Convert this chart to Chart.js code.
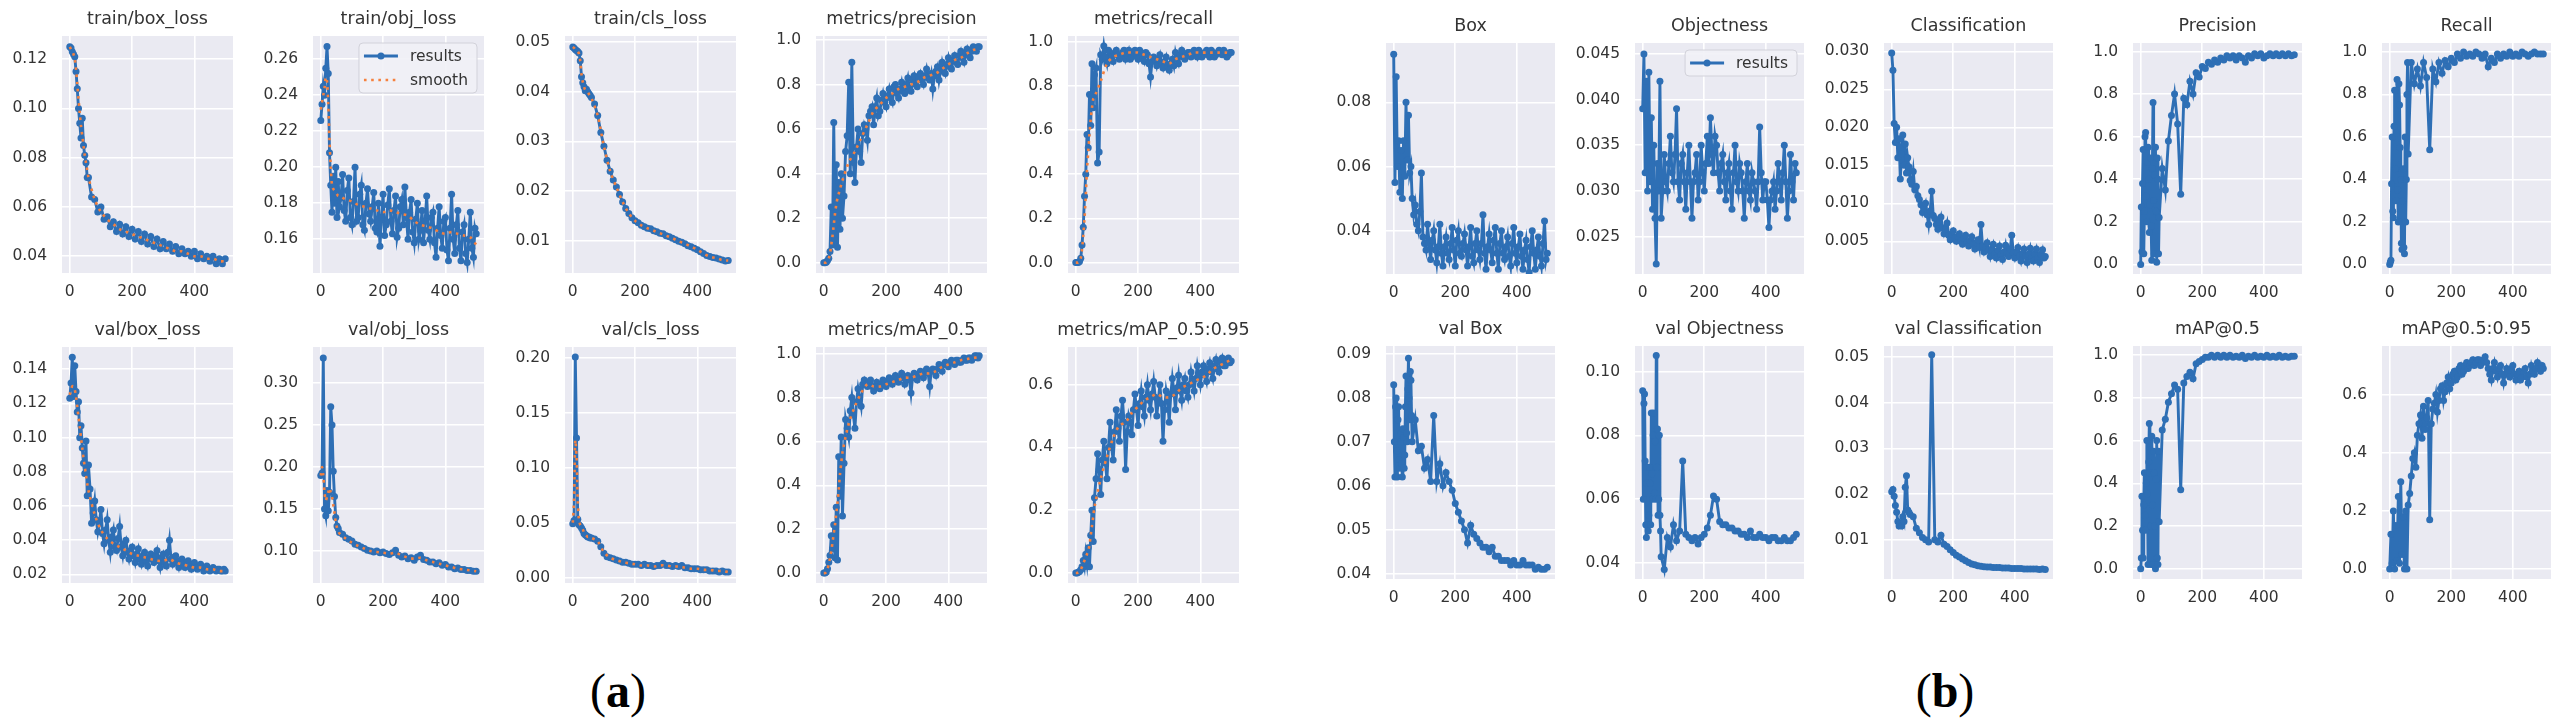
<!DOCTYPE html>
<html>
<head>
<meta charset="utf-8">
<script src="https://cdn.jsdelivr.net/npm/chart.js@4.4.1/dist/chart.umd.min.js"></script>
<style>
  html, body { margin: 0; padding: 0; background: #fff; }
  #fig { position: relative; width: 2560px; height: 726px; overflow: hidden; }
  #fig canvas { position: absolute; }
  .lab { position: absolute; top: 662px; width: 200px; text-align: center;
         font: 48px/58px "Liberation Serif", "Times New Roman", serif; color: #000; }
</style>
</head>
<body>
<div id="fig">
  <div class="lab" style="left:518px">(<b>a</b>)</div>
  <div class="lab" style="left:1845px">(<b>b</b>)</div>
</div>
<script>
// epochs sampled for the smoother "results" series (dense at the start, every 10 after)
const EPOCHS = [0,4,8,12,16,20,24,28,32,36,40,44,48,52,56,60,
  70,80,90,100,110,120,130,140,150,160,170,180,190,200,210,220,230,240,250,260,270,280,
  290,300,310,320,330,340,350,360,370,380,390,400,410,420,430,440,450,460,470,480,490,499];
// epochs for series that are chaotic in the first 60 epochs (every 2 there)
const EPOCHS_E = [0,2,4,6,8,10,12,14,16,18,20,22,24,26,28,30,32,34,36,38,40,42,44,46,48,50,52,54,56,58,60,
  70,80,90,100,110,120,130,140,150,160,170,180,190,200,210,220,230,240,250,260,270,280,
  290,300,310,320,330,340,350,360,370,380,390,400,410,420,430,440,450,460,470,480,490,499];
// epochs sampled for the noisy "results" series (every 5 after epoch 60)
const EPOCHS_D = [0,4,8,12,16,20,24,28,32,36,40,44,48,52,56,60,
  65,70,75,80,85,90,95,100,105,110,
  115,120,125,130,135,140,145,150,155,160,
  165,170,175,180,185,190,195,200,205,210,
  215,220,225,230,235,240,245,250,255,260,
  265,270,275,280,285,290,295,300,305,310,
  315,320,325,330,335,340,345,350,355,360,
  365,370,375,380,385,390,395,400,405,410,
  415,420,425,430,435,440,445,450,455,460,
  465,470,475,480,485,490,495,499];
// epochs sampled for the "smooth" series
const SMOOTH_EPOCHS = [0,4,8,12,16,20,24,28,32,36,40,44,48,52,56,60,
  80,100,120,140,160,180,200,220,240,260,280,300,320,340,360,380,400,420,440,460,480,499];
const X_TICKS = [0, 200, 400];

// ---- (a) ----
const A_TRAIN_BOX = [0.125,0.1245,0.123,0.122,0.121,0.115,0.108,0.100,0.094,0.088,0.096,0.085,0.081,0.078,0.072,0.072,
  0.064,0.063,0.058,0.060,0.055,0.056,0.052,0.054,0.050,0.053,0.049,0.052,0.048,0.051,0.047,0.050,0.046,0.049,0.045,0.048,0.044,0.047,
  0.043,0.046,0.043,0.045,0.042,0.044,0.041,0.043,0.041,0.042,0.040,0.042,0.039,0.041,0.039,0.040,0.038,0.040,0.037,0.039,0.037,0.039];
const A_TRAIN_BOX_SM = [0.125,0.124,0.123,0.122,0.120,0.116,0.110,0.104,0.098,0.093,0.089,0.085,0.081,0.078,0.075,0.072,
  0.063,0.058,0.055,0.053,0.051,0.050,0.049,0.048,0.047,0.046,0.045,0.044,0.043,0.042,0.042,0.041,0.040,0.040,0.039,0.039,0.038,
  0.038];

const A_TRAIN_OBJ = [0.226,0.235,0.245,0.240,0.255,0.267,0.252,0.208,0.190,0.175,0.195,0.180,0.200,0.172,0.192,0.178,
  0.183,0.196,0.176,0.170,0.187,0.194,0.172,0.168,0.181,0.200,
  0.170,0.172,0.185,0.190,0.168,0.165,0.180,0.188,0.174,0.170,
  0.178,0.186,0.166,0.164,0.180,0.156,0.172,0.185,0.162,0.168,
  0.179,0.188,0.170,0.163,0.176,0.184,0.161,0.166,0.178,0.182,
  0.168,0.189,0.172,0.160,0.175,0.182,0.164,0.158,0.171,0.180,
  0.160,0.165,0.176,0.158,0.170,0.184,0.165,0.160,0.172,0.175,
  0.158,0.150,0.166,0.178,0.162,0.155,0.170,0.172,0.154,0.148,
  0.166,0.185,0.160,0.152,0.168,0.176,0.155,0.148,0.164,0.168,
  0.152,0.147,0.160,0.175,0.155,0.150,0.166,0.163];
const A_TRAIN_OBJ_SM = [0.232,0.236,0.240,0.244,0.250,0.248,0.235,0.215,0.200,0.190,0.188,0.187,0.186,0.185,0.184,0.184,
  0.182,0.181,0.179,0.178,0.177,0.176,0.175,0.176,0.175,0.174,0.173,0.170,0.168,0.167,0.166,0.164,0.163,0.164,0.163,0.162,0.161,
  0.157];

const A_TRAIN_CLS = [0.0490,0.0488,0.0485,0.0483,0.0481,0.0478,0.0462,0.0430,0.0418,0.0410,0.0402,0.0405,0.0400,0.0396,0.0392,0.0388,
  0.0375,0.0352,0.0318,0.0290,0.0262,0.0240,0.0222,0.0208,0.0193,0.0178,0.0165,0.0155,0.0146,0.0140,0.0136,0.0131,0.0128,0.0125,0.0124,0.0120,0.0118,0.0115,
  0.0114,0.0110,0.0108,0.0105,0.0102,0.0099,0.0097,0.0094,0.0090,0.0088,0.0085,0.0082,0.0078,0.0074,0.0070,0.0068,0.0066,0.0065,0.0063,0.0061,0.0059,0.0060];
const A_TRAIN_CLS_SM = [0.0490,0.0488,0.0485,0.0483,0.0481,0.0476,0.0462,0.0435,0.0420,0.0410,0.0403,0.0401,0.0399,0.0395,0.0391,0.0387,
  0.0352,0.0290,0.0240,0.0208,0.0178,0.0155,0.0140,0.0131,0.0125,0.0120,0.0115,0.0110,0.0105,0.0099,0.0094,0.0088,0.0082,0.0074,0.0068,0.0065,0.0061,
  0.0060];

const A_PRECISION = [0.0,0.0,0.002,0.01,0.02,0.05,0.25,0.08,0.63,0.10,0.44,0.07,0.36,0.15,0.40,0.20,
  0.30,0.50,0.57,0.81,0.40,0.90,0.45,0.36,0.52,0.60,
  0.50,0.45,0.58,0.62,0.60,0.55,0.66,0.68,0.70,0.62,
  0.70,0.74,0.66,0.68,0.73,0.76,0.72,0.70,0.75,0.78,
  0.74,0.72,0.79,0.80,0.76,0.74,0.78,0.81,0.77,0.76,
  0.80,0.83,0.78,0.77,0.82,0.84,0.80,0.79,0.83,0.85,
  0.82,0.80,0.84,0.87,0.83,0.82,0.85,0.78,0.84,0.86,
  0.88,0.82,0.86,0.90,0.87,0.85,0.89,0.92,0.88,0.87,
  0.91,0.93,0.90,0.89,0.93,0.95,0.92,0.90,0.94,0.96,
  0.93,0.92,0.95,0.97,0.96,0.95,0.97,0.97];
const A_PRECISION_SM = [0,0,0.002,0.01,0.02,0.04,0.08,0.12,0.17,0.22,0.26,0.29,0.31,0.33,0.35,0.37,
  0.45,0.50,0.56,0.62,0.68,0.71,0.74,0.76,0.78,0.79,0.80,0.81,0.83,0.84,0.85,0.87,0.89,0.91,0.92,0.94,0.955,
  0.96];

const A_RECALL = [0.0,0.0,0.0,0.005,0.02,0.08,0.16,0.30,0.40,0.58,0.52,0.76,0.62,0.90,0.70,0.85,
  0.88,0.45,0.50,0.94,0.92,0.98,0.93,0.90,0.96,0.95,
  0.93,0.91,0.94,0.96,0.94,0.92,0.93,0.95,0.96,0.92,
  0.94,0.96,0.92,0.93,0.95,0.96,0.94,0.92,0.96,0.95,
  0.93,0.91,0.95,0.94,0.90,0.84,0.91,0.93,0.92,0.89,
  0.92,0.94,0.90,0.88,0.91,0.93,0.89,0.87,0.90,0.92,
  0.89,0.95,0.92,0.90,0.94,0.96,0.93,0.92,0.94,0.95,
  0.95,0.93,0.94,0.96,0.95,0.93,0.96,0.95,0.93,0.94,
  0.95,0.96,0.94,0.93,0.96,0.95,0.93,0.94,0.95,0.96,
  0.95,0.94,0.96,0.95,0.93,0.94,0.95,0.95];
const A_RECALL_SM = [0,0,0,0.005,0.02,0.06,0.12,0.20,0.30,0.42,0.50,0.58,0.65,0.70,0.74,0.75,
  0.82,0.90,0.93,0.94,0.95,0.95,0.95,0.94,0.93,0.92,0.91,0.90,0.92,0.93,0.94,0.95,0.95,0.95,0.95,0.95,0.95,
  0.945];

const A_VAL_BOX = [0.123,0.132,0.147,0.124,0.142,0.127,0.115,0.121,0.100,0.107,0.094,0.085,0.079,0.098,0.066,0.084,
  0.070,0.050,0.056,0.063,0.052,0.045,0.050,0.058,0.044,0.038,
  0.046,0.052,0.040,0.033,0.042,0.046,0.036,0.034,0.041,0.048,
  0.036,0.031,0.038,0.040,0.033,0.029,0.034,0.036,0.031,0.027,
  0.032,0.035,0.029,0.026,0.031,0.033,0.028,0.025,0.030,0.032,
  0.029,0.027,0.031,0.034,0.028,0.024,0.030,0.032,0.027,0.025,
  0.033,0.040,0.029,0.026,0.030,0.031,0.027,0.024,0.028,0.029,
  0.026,0.024,0.027,0.028,0.025,0.023,0.026,0.027,0.024,0.023,
  0.025,0.026,0.024,0.022,0.024,0.025,0.023,0.022,0.023,0.024,
  0.023,0.022,0.023,0.023,0.022,0.022,0.023,0.022];
const A_VAL_BOX_SM = [0.125,0.128,0.130,0.130,0.128,0.124,0.118,0.112,0.106,0.100,0.094,0.088,0.083,0.078,0.073,0.069,
  0.055,0.046,0.041,0.038,0.036,0.034,0.032,0.031,0.030,0.029,0.028,0.028,0.029,0.027,0.026,0.025,0.024,0.024,0.023,0.023,0.022,
  0.022];

const A_VAL_OBJ = [0.190,0.193,0.330,0.150,0.142,0.172,0.148,0.170,0.272,0.250,0.195,0.165,0.140,0.130,0.127,0.122,
  0.120,0.116,0.114,0.112,0.108,0.107,0.105,0.103,0.101,0.100,0.099,0.100,0.098,0.099,0.097,0.096,0.098,0.101,0.095,0.093,0.094,0.091,
  0.092,0.089,0.093,0.095,0.090,0.089,0.087,0.087,0.085,0.086,0.083,0.084,0.081,0.081,0.079,0.080,0.078,0.078,0.077,0.077,0.076,0.076];
const A_VAL_OBJ_SM = [0.190,0.200,0.190,0.170,0.160,0.165,0.170,0.175,0.170,0.165,0.155,0.145,0.135,0.128,0.124,0.121,
  0.115,0.110,0.106,0.103,0.100,0.099,0.098,0.097,0.098,0.095,0.092,0.091,0.092,0.089,0.087,0.085,0.083,0.081,0.079,0.078,0.077,
  0.076];

const A_VAL_CLS = [0.049,0.052,0.201,0.127,0.053,0.048,0.047,0.045,0.043,0.040,0.039,0.038,0.037,0.037,0.036,0.036,
  0.035,0.033,0.028,0.022,0.019,0.018,0.017,0.016,0.015,0.014,0.014,0.013,0.012,0.012,0.012,0.011,0.012,0.011,0.011,0.010,0.011,0.011,
  0.013,0.011,0.011,0.010,0.011,0.010,0.011,0.009,0.009,0.008,0.008,0.008,0.007,0.007,0.007,0.006,0.006,0.006,0.005,0.006,0.005,0.005];
const A_VAL_CLS_SM = [0.050,0.070,0.125,0.110,0.070,0.052,0.048,0.046,0.044,0.041,0.039,0.038,0.037,0.037,0.036,0.036,
  0.033,0.023,0.018,0.016,0.014,0.013,0.012,0.011,0.011,0.010,0.011,0.011,0.010,0.010,0.009,0.008,0.008,0.007,0.007,0.006,0.006,
  0.005];

const A_MAP50 = [0.0,0.0,0.005,0.02,0.05,0.08,0.17,0.11,0.22,0.07,0.30,0.06,0.53,0.35,0.62,0.26,
  0.50,0.70,0.66,0.62,0.74,0.80,0.72,0.66,0.78,0.84,
  0.80,0.76,0.86,0.88,0.86,0.85,0.87,0.88,0.85,0.83,
  0.85,0.87,0.85,0.84,0.86,0.88,0.87,0.85,0.87,0.89,
  0.88,0.86,0.88,0.90,0.88,0.87,0.89,0.91,0.89,0.86,
  0.88,0.90,0.88,0.82,0.89,0.91,0.90,0.88,0.90,0.92,
  0.91,0.89,0.92,0.93,0.91,0.85,0.92,0.93,0.92,0.90,
  0.93,0.95,0.94,0.92,0.95,0.96,0.95,0.94,0.96,0.97,
  0.96,0.95,0.97,0.97,0.96,0.96,0.97,0.98,0.97,0.97,
  0.98,0.98,0.97,0.98,0.99,0.99,0.98,0.99];
const A_MAP50_SM = [0,0,0.005,0.02,0.04,0.07,0.10,0.14,0.18,0.22,0.27,0.32,0.38,0.45,0.50,0.55,
  0.68,0.76,0.82,0.86,0.85,0.85,0.86,0.87,0.88,0.89,0.89,0.90,0.91,0.91,0.92,0.94,0.95,0.96,0.97,0.975,0.98,
  0.985];

const A_MAP5095 = [0.0,0.0,0.002,0.005,0.01,0.02,0.04,0.02,0.06,0.03,0.08,0.02,0.12,0.20,0.10,0.24,
  0.30,0.38,0.33,0.25,0.36,0.42,0.35,0.30,0.40,0.48,
  0.40,0.36,0.45,0.52,0.46,0.42,0.50,0.55,0.48,0.33,
  0.45,0.50,0.48,0.44,0.52,0.57,0.52,0.47,0.54,0.58,
  0.53,0.50,0.56,0.60,0.55,0.52,0.57,0.61,0.56,0.50,
  0.55,0.60,0.54,0.42,0.52,0.58,0.55,0.48,0.57,0.62,
  0.58,0.52,0.59,0.63,0.58,0.55,0.60,0.62,0.58,0.56,
  0.60,0.64,0.61,0.58,0.62,0.66,0.63,0.60,0.64,0.66,
  0.63,0.61,0.65,0.67,0.64,0.62,0.66,0.68,0.65,0.64,
  0.67,0.685,0.66,0.66,0.68,0.685,0.67,0.675];
const A_MAP5095_SM = [0,0,0.002,0.005,0.01,0.02,0.03,0.04,0.05,0.06,0.07,0.09,0.12,0.15,0.18,0.21,
  0.30,0.37,0.43,0.47,0.48,0.51,0.53,0.55,0.56,0.57,0.56,0.56,0.57,0.59,0.60,0.61,0.62,0.63,0.65,0.66,0.67,
  0.68];

// ---- (b) ----
const B_BOX = [0.095,0.055,0.088,0.060,0.068,0.052,0.065,0.050,0.068,0.057,0.080,0.062,0.076,0.058,0.060,0.050,
  0.045,0.048,0.042,0.040,0.046,0.058,0.038,0.036,0.034,0.042,
  0.036,0.031,0.037,0.040,0.034,0.030,0.035,0.042,0.033,0.029,
  0.035,0.038,0.033,0.031,0.036,0.041,0.034,0.029,0.037,0.040,
  0.033,0.032,0.036,0.039,0.034,0.029,0.035,0.041,0.032,0.030,
  0.036,0.040,0.034,0.031,0.036,0.045,0.033,0.028,0.035,0.039,
  0.034,0.030,0.037,0.041,0.033,0.028,0.036,0.040,0.033,0.031,
  0.035,0.038,0.032,0.029,0.036,0.041,0.033,0.030,0.035,0.039,
  0.032,0.028,0.034,0.037,0.031,0.027,0.035,0.040,0.033,0.028,
  0.034,0.038,0.032,0.029,0.036,0.043,0.031,0.033];
const B_OBJ = [0.039,0.045,0.032,0.042,0.030,0.043,0.031,0.038,0.028,0.035,0.027,0.022,0.033,0.030,0.042,0.027,
  0.030,0.034,0.031,0.030,0.033,0.036,0.032,0.031,0.034,0.039,
  0.031,0.029,0.033,0.034,0.031,0.028,0.032,0.035,0.031,0.027,
  0.031,0.032,0.034,0.029,0.031,0.035,0.032,0.030,0.033,0.036,
  0.033,0.038,0.034,0.032,0.036,0.035,0.032,0.030,0.033,0.034,
  0.031,0.029,0.032,0.033,0.030,0.028,0.032,0.035,0.031,0.030,
  0.033,0.032,0.030,0.027,0.031,0.033,0.030,0.029,0.032,0.031,
  0.030,0.028,0.031,0.037,0.032,0.029,0.031,0.031,0.029,0.026,
  0.029,0.030,0.031,0.028,0.030,0.033,0.031,0.029,0.032,0.035,
  0.031,0.027,0.030,0.034,0.031,0.029,0.033,0.032];
const B_CLS = [0.0298,0.0275,0.0205,0.0180,0.0200,0.0160,0.0185,0.0132,0.0165,0.0190,0.0150,0.0178,0.0140,0.0160,0.0148,0.0130,
  0.0125,0.0142,0.0118,0.0122,0.0110,0.0105,0.0098,0.0088,0.0094,0.0100,
  0.0085,0.0072,0.0090,0.0116,0.0084,0.0080,0.0072,0.0066,0.0075,0.0082,
  0.0068,0.0060,0.0066,0.0074,0.0058,0.0052,0.0060,0.0064,0.0055,0.0050,
  0.0056,0.0060,0.0050,0.0046,0.0054,0.0058,0.0048,0.0044,0.0051,0.0056,
  0.0046,0.0040,0.0048,0.0052,0.0042,0.0072,0.0044,0.0036,0.0042,0.0048,
  0.0038,0.0030,0.0040,0.0046,0.0034,0.0028,0.0038,0.0044,0.0032,0.0026,
  0.0036,0.0045,0.0033,0.0030,0.0040,0.0058,0.0035,0.0028,0.0036,0.0042,
  0.0031,0.0024,0.0034,0.0040,0.0030,0.0022,0.0033,0.0041,0.0029,0.0024,
  0.0034,0.0040,0.0028,0.0022,0.0033,0.0039,0.0028,0.0030];
const B_PRECISION = [0.0,0.27,0.06,0.38,0.54,0.05,0.25,0.60,0.62,0.32,0.20,0.48,0.55,0.40,0.15,0.28,
  0.50,0.18,0.02,0.45,0.76,0.30,0.05,0.42,0.55,0.25,0.01,0.50,0.40,0.05,0.22,
  0.45,0.35,0.58,0.70,0.80,0.66,0.33,0.78,0.75,0.86,0.80,0.90,0.88,0.93,0.92,0.95,0.94,0.96,0.95,0.97,0.96,0.98,
  0.97,0.98,0.96,0.98,0.97,0.95,0.98,0.97,0.99,0.98,0.99,0.97,0.98,0.99,0.98,0.99,0.98,0.99,0.98,0.99,0.98,0.985];
const B_RECALL = [0.0,0.01,0.02,0.38,0.60,0.25,0.22,0.65,0.82,0.45,0.30,0.62,0.87,0.35,0.20,0.85,
  0.75,0.55,0.40,0.10,0.07,0.30,0.45,0.08,0.05,0.60,0.20,0.40,0.80,0.95,0.52,
  0.95,0.85,0.92,0.84,0.95,0.88,0.54,0.92,0.86,0.95,0.90,0.96,0.93,0.97,0.95,0.99,0.97,1.0,0.98,0.99,0.98,1.0,
  0.99,0.97,0.99,0.93,0.97,0.95,0.99,0.97,0.99,0.98,1.0,0.98,0.99,0.98,1.0,0.99,0.98,0.99,1.0,0.99,0.99,0.99];
const B_VAL_BOX = [0.083,0.070,0.062,0.078,0.080,0.068,0.062,0.075,0.078,0.066,0.064,0.070,0.072,0.065,0.062,0.073,
  0.071,0.064,0.067,0.078,0.085,0.072,0.070,0.082,0.089,0.080,0.075,0.086,0.084,0.076,0.070,
  0.075,0.068,0.069,0.064,0.066,0.061,0.076,0.061,0.065,0.060,0.063,0.061,0.059,0.056,0.054,0.052,0.050,0.047,0.051,0.049,0.048,0.047,
  0.046,0.046,0.045,0.046,0.044,0.044,0.043,0.043,0.043,0.042,0.043,0.042,0.042,0.043,0.042,0.042,0.042,0.041,0.0415,0.041,0.041,0.0415];
const B_VAL_OBJ = [0.094,0.060,0.090,0.093,0.072,0.052,0.048,0.065,0.070,0.050,0.055,0.070,0.065,0.052,0.087,0.068,
  0.060,0.080,0.087,0.062,0.078,0.060,0.105,0.070,0.082,0.055,0.060,0.080,0.055,0.050,0.042,
  0.038,0.048,0.045,0.052,0.047,0.050,0.072,0.049,0.048,0.047,0.048,0.046,0.048,0.049,0.051,0.055,0.061,0.060,0.053,0.052,0.052,0.051,
  0.051,0.050,0.050,0.049,0.049,0.048,0.050,0.048,0.048,0.049,0.048,0.048,0.047,0.048,0.048,0.047,0.047,0.048,0.047,0.047,0.048,0.049];
const B_VAL_CLS = [0.0205,0.0210,0.0195,0.0175,0.0160,0.0140,0.0130,0.0135,0.0130,0.0150,0.0140,0.0215,0.0240,0.0165,0.0160,0.0155,
  0.0150,0.0125,0.0115,0.0105,0.0100,0.0095,0.0505,0.0100,0.0095,0.0110,0.0090,0.0085,0.0078,0.0072,0.0066,0.0062,0.0058,0.0054,0.0050,0.0047,0.0045,0.0043,
  0.0042,0.0041,0.0040,0.0040,0.0039,0.0039,0.0039,0.0038,0.0038,0.0038,0.0037,0.0037,0.0037,0.0037,0.0036,0.0036,0.0036,0.0036,0.0036,0.0035,0.0036,0.0035];
const B_MAP50 = [0.0,0.05,0.34,0.18,0.05,0.30,0.45,0.25,0.18,0.40,0.60,0.35,0.02,0.50,0.68,0.45,
  0.20,0.02,0.62,0.30,0.02,0.55,0.45,0.20,0.0,0.42,0.60,0.05,0.02,0.55,0.22,
  0.65,0.70,0.78,0.82,0.86,0.84,0.37,0.87,0.90,0.92,0.89,0.96,0.97,0.98,0.99,0.99,1.0,0.99,1.0,0.99,1.0,0.99,
  1.0,0.99,0.995,0.99,1.0,0.985,0.995,0.99,1.0,0.99,0.995,0.99,1.0,0.99,0.995,0.99,1.0,0.99,0.995,0.99,0.995,0.995];
const B_MAP5095 = [0.0,0.12,0.02,0.20,0.0,0.15,0.03,0.25,0.02,0.30,0.05,0.18,0.0,0.20,0.0,0.22,
  0.26,0.32,0.38,0.40,0.35,0.46,0.50,0.53,0.45,0.56,
  0.48,0.52,0.58,0.17,0.50,0.55,0.57,0.60,0.54,0.58,
  0.62,0.63,0.58,0.61,0.64,0.66,0.62,0.64,0.67,0.68,
  0.65,0.66,0.69,0.70,0.67,0.68,0.70,0.71,0.69,0.70,
  0.71,0.72,0.70,0.71,0.72,0.72,0.70,0.71,0.72,0.73,
  0.71,0.69,0.67,0.65,0.69,0.71,0.68,0.66,0.69,0.70,
  0.67,0.64,0.67,0.69,0.67,0.66,0.69,0.70,0.67,0.65,
  0.67,0.68,0.65,0.66,0.68,0.69,0.66,0.64,0.67,0.70,
  0.68,0.67,0.69,0.71,0.69,0.68,0.70,0.69];

// y tick labels
const T_TRAIN_BOX = ['0.04','0.06','0.08','0.10','0.12'];
const T_TRAIN_OBJ = ['0.16','0.18','0.20','0.22','0.24','0.26'];
const T_TRAIN_CLS = ['0.01','0.02','0.03','0.04','0.05'];
const T_UNIT = ['0.0','0.2','0.4','0.6','0.8','1.0'];
const T_VAL_BOX = ['0.02','0.04','0.06','0.08','0.10','0.12','0.14'];
const T_VAL_OBJ = ['0.10','0.15','0.20','0.25','0.30'];
const T_VAL_CLS = ['0.00','0.05','0.10','0.15','0.20'];
const T_MAP95 = ['0.0','0.2','0.4','0.6'];
const T_B_BOX = ['0.04','0.06','0.08'];
const T_B_OBJ = ['0.025','0.030','0.035','0.040','0.045'];
const T_B_CLS = ['0.005','0.010','0.015','0.020','0.025','0.030'];
const T_B_VBOX = ['0.04','0.05','0.06','0.07','0.08','0.09'];
const T_B_VOBJ = ['0.04','0.06','0.08','0.10'];
const T_B_VCLS = ['0.01','0.02','0.03','0.04','0.05'];

const PANELS = [
  { g: 'a', r: 0, c: 0, title: 'train/box_loss', x: EPOCHS, y: A_TRAIN_BOX, s: A_TRAIN_BOX_SM, ticks: T_TRAIN_BOX, lim: [0.0332, 0.1294] },
  { g: 'a', r: 0, c: 1, title: 'train/obj_loss', x: EPOCHS_D, y: A_TRAIN_OBJ, s: A_TRAIN_OBJ_SM, ticks: T_TRAIN_OBJ, lim: [0.1412, 0.2729], legend: true },
  { g: 'a', r: 0, c: 2, title: 'train/cls_loss', x: EPOCHS, y: A_TRAIN_CLS, s: A_TRAIN_CLS_SM, ticks: T_TRAIN_CLS, lim: [0.0035, 0.0512] },
  { g: 'a', r: 0, c: 3, title: 'metrics/precision', x: EPOCHS_D, y: A_PRECISION, s: A_PRECISION_SM, ticks: T_UNIT, lim: [-0.046, 1.018] },
  { g: 'a', r: 0, c: 4, title: 'metrics/recall', x: EPOCHS_D, y: A_RECALL, s: A_RECALL_SM, ticks: T_UNIT, lim: [-0.047, 1.025] },
  { g: 'a', r: 1, c: 0, title: 'val/box_loss', x: EPOCHS_D, y: A_VAL_BOX, s: A_VAL_BOX_SM, ticks: T_VAL_BOX, lim: [0.015, 0.153] },
  { g: 'a', r: 1, c: 1, title: 'val/obj_loss', x: EPOCHS, y: A_VAL_OBJ, s: A_VAL_OBJ_SM, ticks: T_VAL_OBJ, lim: [0.062, 0.343] },
  { g: 'a', r: 1, c: 2, title: 'val/cls_loss', x: EPOCHS, y: A_VAL_CLS, s: A_VAL_CLS_SM, ticks: T_VAL_CLS, lim: [-0.005, 0.210] },
  { g: 'a', r: 1, c: 3, title: 'metrics/mAP_0.5', x: EPOCHS_D, y: A_MAP50, s: A_MAP50_SM, ticks: T_UNIT, lim: [-0.045, 1.03] },
  { g: 'a', r: 1, c: 4, title: 'metrics/mAP_0.5:0.95', x: EPOCHS_D, y: A_MAP5095, s: A_MAP5095_SM, ticks: T_MAP95, lim: [-0.032, 0.72] },
  { g: 'b', r: 0, c: 0, title: 'Box', x: EPOCHS_D, y: B_BOX, ticks: T_B_BOX, lim: [0.0265, 0.0985] },
  { g: 'b', r: 0, c: 1, title: 'Objectness', x: EPOCHS_D, y: B_OBJ, ticks: T_B_OBJ, lim: [0.0209, 0.0462], legend: true },
  { g: 'b', r: 0, c: 2, title: 'Classification', x: EPOCHS_D, y: B_CLS, ticks: T_B_CLS, lim: [0.0007, 0.0311] },
  { g: 'b', r: 0, c: 3, title: 'Precision', x: EPOCHS_E, y: B_PRECISION, ticks: T_UNIT, lim: [-0.045, 1.04] },
  { g: 'b', r: 0, c: 4, title: 'Recall', x: EPOCHS_E, y: B_RECALL, ticks: T_UNIT, lim: [-0.045, 1.042] },
  { g: 'b', r: 1, c: 0, title: 'val Box', x: EPOCHS_E, y: B_VAL_BOX, ticks: T_B_VBOX, lim: [0.0388, 0.0918] },
  { g: 'b', r: 1, c: 1, title: 'val Objectness', x: EPOCHS_E, y: B_VAL_OBJ, ticks: T_B_VOBJ, lim: [0.035, 0.108] },
  { g: 'b', r: 1, c: 2, title: 'val Classification', x: EPOCHS, y: B_VAL_CLS, ticks: T_B_VCLS, lim: [0.0014, 0.0524] },
  { g: 'b', r: 1, c: 3, title: 'mAP@0.5', x: EPOCHS_E, y: B_MAP50, ticks: T_UNIT, lim: [-0.048, 1.043] },
  { g: 'b', r: 1, c: 4, title: 'mAP@0.5:0.95', x: EPOCHS_D, y: B_MAP5095, ticks: T_MAP95, lim: [-0.034, 0.767] }
];

// plot-area geometry of the two figure halves
const GRID = {
  a: { left: [62, 313, 565, 816, 1068], w: 171, top: [36, 347], h: [237, 236] },
  b: { left: [1386, 1635, 1884, 2133, 2382], w: 169, top: [43, 346], h: [231, 233] }
};
const PAD_L = 80, PAD_T = 34, PAD_R = 10, PAD_B = 36;

const BLUE = '#2e6fb5';
const ORANGE = '#f5813f';
const TXT = '#333333';
const FONT = '"DejaVu Sans", Verdana, sans-serif';

Chart.defaults.font.family = FONT;
Chart.defaults.font.size = 15.5;
Chart.defaults.color = TXT;

// grey axes face like seaborn darkgrid
const plotBg = {
  id: 'plotBg',
  beforeDraw(chart) {
    const { ctx, chartArea: a } = chart;
    ctx.save();
    ctx.fillStyle = '#eaeaf2';
    ctx.fillRect(a.left, a.top, a.right - a.left, a.bottom - a.top);
    ctx.restore();
  }
};

// title centred over the axes, not over the canvas
const subplotTitle = {
  id: 'subplotTitle',
  afterDraw(chart, args, opts) {
    const { ctx, chartArea: a } = chart;
    ctx.save();
    ctx.font = '17.5px ' + FONT;
    ctx.fillStyle = TXT;
    ctx.textAlign = 'center';
    ctx.textBaseline = 'middle';
    ctx.fillText(opts.text, (a.left + a.right) / 2, a.top - 16.5);
    ctx.restore();
  }
};

// legend box inside the upper right corner of the axes
const innerLegend = {
  id: 'innerLegend',
  afterDraw(chart, args, opts) {
    if (!opts.show) return;
    const { ctx, chartArea: a } = chart;
    const items = chart.data.datasets.slice().sort((p, q) => q.order - p.order);
    ctx.save();
    ctx.font = '15.5px ' + FONT;
    const tw = Math.max(...items.map(d => ctx.measureText(d.label).width));
    const w = 51 + tw + 9, h = 26 + 24 * (items.length - 1);
    const x0 = a.right - 7 - w, y0 = a.top + 7;
    ctx.beginPath();
    if (ctx.roundRect) ctx.roundRect(x0, y0, w, h, 4); else ctx.rect(x0, y0, w, h);
    ctx.fillStyle = 'rgba(240,240,246,0.88)';
    ctx.fill();
    ctx.strokeStyle = '#d2d2da';
    ctx.lineWidth = 1;
    ctx.stroke();
    items.forEach((d, i) => {
      const cy = y0 + 13 + 24 * i;
      ctx.beginPath();
      ctx.moveTo(x0 + 5, cy);
      ctx.lineTo(x0 + 39, cy);
      ctx.strokeStyle = d.borderColor;
      ctx.lineWidth = d.borderWidth;
      ctx.setLineDash(d.borderDash || []);
      ctx.stroke();
      ctx.setLineDash([]);
      if (d.pointRadius > 0) {
        ctx.beginPath();
        ctx.arc(x0 + 22, cy, d.pointRadius, 0, Math.PI * 2);
        ctx.fillStyle = d.pointBackgroundColor;
        ctx.fill();
      }
      ctx.fillStyle = TXT;
      ctx.textAlign = 'left';
      ctx.textBaseline = 'middle';
      ctx.fillText(d.label, x0 + 51, cy + 1);
    });
    ctx.restore();
  }
};

const pts = (xs, ys) => {
  if (xs.length !== ys.length) console.warn('length mismatch', xs.length, ys.length);
  return xs.map((x, i) => ({ x: x, y: ys[i] }));
};

const fig = document.getElementById('fig');

PANELS.forEach(p => {
  const geo = GRID[p.g];
  const pw = geo.w, ph = geo.h[p.r];
  const canvas = document.createElement('canvas');
  canvas.width = PAD_L + pw + PAD_R;
  canvas.height = PAD_T + ph + PAD_B;
  canvas.style.left = (geo.left[p.c] - PAD_L) + 'px';
  canvas.style.top = (geo.top[p.r] - PAD_T) + 'px';
  fig.appendChild(canvas);

  const datasets = [{
    label: 'results',
    data: pts(p.x, p.y),
    borderColor: BLUE,
    borderWidth: 2.9,
    pointRadius: 3.5,
    pointHoverRadius: 3.5,
    pointBorderWidth: 0,
    pointBackgroundColor: BLUE,
    tension: 0,
    order: 1
  }];
  if (p.s) {
    datasets.push({
      label: 'smooth',
      data: pts(SMOOTH_EPOCHS, p.s),
      borderColor: ORANGE,
      borderWidth: 2.6,
      borderDash: [2.6, 4.6],
      pointRadius: 0,
      tension: 0.3,
      order: 0
    });
  }

  const labels = p.ticks;
  new Chart(canvas, {
    type: 'line',
    data: { datasets: datasets },
    options: {
      animation: false,
      responsive: false,
      events: [],
      layout: { padding: { top: PAD_T, right: PAD_R, left: 0, bottom: 0 } },
      plugins: {
        legend: { display: false },
        tooltip: { enabled: false },
        subplotTitle: { text: p.title },
        innerLegend: { show: !!p.legend }
      },
      scales: {
        x: {
          type: 'linear',
          min: -25,
          max: 524,
          afterBuildTicks: s => { s.ticks = X_TICKS.map(v => ({ value: v })); },
          afterFit: s => { s.height = PAD_B; },
          grid: { color: '#ffffff', lineWidth: 1.6, drawTicks: false },
          border: { display: false },
          ticks: { padding: 10, color: TXT, callback: v => String(v) }
        },
        y: {
          type: 'linear',
          min: p.lim[0],
          max: p.lim[1],
          afterBuildTicks: s => { s.ticks = labels.map(t => ({ value: parseFloat(t) })); },
          afterFit: s => { s.width = PAD_L; },
          grid: { color: '#ffffff', lineWidth: 1.6, drawTicks: false },
          border: { display: false },
          ticks: { padding: 15, color: TXT, callback: (v, i) => labels[i] }
        }
      }
    },
    plugins: [plotBg, subplotTitle, innerLegend]
  });
});
</script>
</body>
</html>
